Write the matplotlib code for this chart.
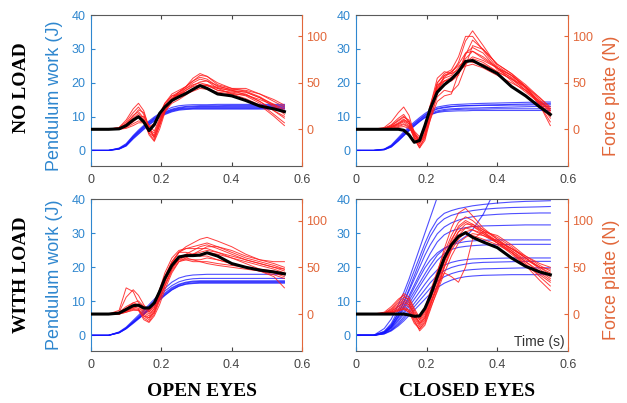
import matplotlib.pyplot as plt

plt.rcParams["font.family"] = ["Liberation Sans", "DejaVu Sans"]

BLUE_AX = "#2f87cf"
ORANGE_AX = "#e2673a"
GRAY = "#5a5a5a"

# common time base (s)
t = [0, .05, .08, .10, .12, .135, .15, .165, .18, .195, .21, .23, .25, .27, .29, .31, .33, .36, .40, .44, .48, .52, .55]

# ---- NO LOAD / OPEN EYES ----
nl_open_blue = [
    [0, 0, 0.5, 1.5, 3.8, 5.3, 6.7, 8.0, 9.2, 10.2, 11.0, 11.8, 12.3, 12.5, 12.6, 12.7, 12.7, 12.7, 12.7, 12.7, 12.7, 12.7, 12.7],
    [0, 0, 0.6, 1.8, 4.2, 5.7, 7.1, 8.4, 9.6, 10.6, 11.4, 12.2, 12.7, 13.0, 13.1, 13.2, 13.2, 13.2, 13.3, 13.3, 13.3, 13.3, 13.3],
    [0, 0, 0.4, 1.3, 3.4, 4.8, 6.2, 7.5, 8.7, 9.8, 10.6, 11.4, 11.9, 12.1, 12.2, 12.2, 12.2, 12.2, 12.2, 12.2, 12.2, 12.2, 12.2],
    [0, 0, 0.5, 1.6, 4.0, 5.5, 6.9, 8.2, 9.4, 10.4, 11.2, 12.0, 12.5, 12.8, 12.9, 13.0, 13.0, 13.0, 13.0, 13.0, 13.0, 13.0, 13.0],
    [0, 0, 0.7, 2.0, 4.4, 6.0, 7.4, 8.7, 9.9, 10.9, 11.8, 12.7, 13.2, 13.4, 13.5, 13.5, 13.5, 13.6, 13.6, 13.6, 13.6, 13.6, 13.6],
    [0, 0, 0.4, 1.4, 3.6, 5.0, 6.4, 7.7, 8.9, 10.0, 10.8, 11.6, 12.1, 12.3, 12.4, 12.4, 12.4, 12.4, 12.4, 12.4, 12.4, 12.4, 12.4],
]
nl_open_red = [
    [0, 0, 2, 10, 22, 28, 20, 2, -8, 8, 24, 34, 40, 46, 55, 60, 57, 48, 44, 44, 38, 30, 24],
    [0, 0, 1, 6, 15, 19, 12, -4, -12, 4, 20, 32, 38, 44, 50, 54, 52, 44, 42, 40, 34, 24, 18],
    [0, 0, 0, 3, 8, 13, 14, 4, -2, 12, 26, 36, 40, 44, 48, 50, 48, 42, 40, 38, 30, 20, 12],
    [0, 0, 1, 5, 12, 17, 10, -6, -13, 0, 18, 30, 36, 42, 46, 48, 47, 42, 39, 36, 28, 16, 7],
    [0, 0, 0, 2, 6, 9, 8, 2, 4, 16, 28, 38, 42, 46, 52, 56, 54, 46, 43, 42, 38, 32, 26],
    [0, 0, 0, 4, 10, 15, 8, -4, -8, 6, 20, 28, 32, 37, 42, 46, 47, 44, 38, 33, 26, 14, 4],
    [0, 0, 2, 8, 18, 24, 16, -2, -6, 8, 22, 33, 38, 42, 47, 51, 52, 47, 42, 37, 30, 20, 14],
    [0, 0, 0, 1, 4, 7, 7, 3, 6, 16, 28, 36, 37, 38, 41, 44, 43, 40, 38, 37, 32, 26, 20],
    [0, 0, 1, 6, 14, 21, 18, 2, -10, 4, 20, 32, 40, 46, 52, 58, 57, 50, 44, 41, 35, 26, 16],
    [0, 0, 0, 3, 9, 13, 10, 0, -4, 10, 24, 32, 38, 40, 43, 47, 48, 45, 41, 40, 34, 27, 22],
]
nl_open_mean = [0, 0, 0.5, 4, 10, 13.5, 8, -1.5, 5, 17, 24, 31, 35, 38.5, 43, 47, 44, 38, 36, 31, 25, 22, 19]

# ---- NO LOAD / CLOSED EYES ----
nl_closed_blue = [
    [0, 0, 0.3, 1.3, 3.3, 4.9, 6.4, 7.8, 9.1, 10.3, 11.3, 12.2, 12.6, 12.9, 13.1, 13.2, 13.3, 13.4, 13.5, 13.6, 13.7, 13.8, 13.9],
    [0, 0, 0.2, 1.0, 2.8, 4.3, 5.8, 7.2, 8.5, 9.7, 10.6, 11.4, 11.8, 12.0, 12.1, 12.2, 12.2, 12.2, 12.3, 12.3, 12.3, 12.3, 12.3],
    [0, 0, 0.4, 1.6, 3.8, 5.5, 7.0, 8.4, 9.7, 10.9, 11.9, 12.8, 13.2, 13.5, 13.6, 13.7, 13.8, 13.9, 14.0, 14.1, 14.2, 14.3, 14.3],
    [0, 0, 0.3, 1.2, 3.0, 4.6, 6.1, 7.5, 8.8, 10.0, 10.9, 11.7, 12.1, 12.3, 12.4, 12.5, 12.5, 12.6, 12.7, 12.8, 12.9, 13.0, 13.0],
    [0, 0, 0.2, 1.1, 2.9, 4.4, 5.9, 7.3, 8.6, 9.7, 10.5, 11.2, 11.5, 11.6, 11.7, 11.7, 11.8, 11.8, 11.8, 11.8, 11.8, 11.8, 11.8],
    [0, 0, 0.3, 1.4, 3.5, 5.1, 6.6, 8.0, 9.3, 10.5, 11.5, 12.4, 12.8, 13.0, 13.1, 13.2, 13.2, 13.3, 13.3, 13.4, 13.4, 13.5, 13.5],
]
nl_closed_red = [
    [0, 0, 2, 8, 18, 24, 15, -5, -15, -5, 25, 55, 62, 60, 72, 95, 106, 90, 68, 58, 45, 30, 18],
    [0, 0, 1, 5, 12, 16, 8, -8, -18, -10, 15, 50, 60, 64, 78, 100, 100, 85, 66, 55, 42, 28, 12],
    [0, 0, 0, 2, 5, 8, 4, -10, -20, -12, 10, 40, 58, 62, 70, 82, 88, 82, 64, 56, 44, 26, 8],
    [0, 0, 0, 1, 3, 5, 2, -6, -12, 0, 20, 45, 55, 58, 66, 76, 84, 78, 66, 58, 46, 32, 20],
    [0, 0, 1, 3, 6, 9, 6, -4, -10, 2, 22, 48, 52, 54, 60, 70, 76, 72, 62, 54, 42, 30, 22],
    [0, 0, 0, 2, 4, 6, 3, -8, -16, -6, 12, 35, 42, 40, 48, 68, 90, 86, 70, 60, 48, 34, 24],
    [0, 0, 0, 1, 2, 3, 1, -4, -14, -8, 10, 30, 36, 38, 60, 82, 84, 76, 66, 58, 46, 28, 14],
    [0, 0, 1, 4, 10, 14, 8, -6, -14, -4, 18, 42, 52, 56, 62, 72, 78, 74, 66, 52, 40, 28, 16],
    [0, 0, 0, 2, 6, 10, 8, -2, -8, 4, 26, 50, 58, 60, 64, 68, 70, 66, 58, 50, 42, 30, 20],
    [0, 0, 0, 3, 7, 11, 6, -10, -20, -8, 16, 44, 52, 52, 58, 80, 96, 86, 70, 60, 46, 26, 4],
    [0, 0, 1, 4, 9, 13, 10, -3, -12, -2, 20, 46, 56, 62, 68, 74, 72, 70, 62, 54, 46, 34, 22],
]
nl_closed_mean = [0, 0, 0, 0, 0, -1, -6, -14, -12, 4, 22, 40, 48, 54, 62, 73, 74, 68, 60, 46, 36, 24, 16]

# ---- WITH LOAD / OPEN EYES ----
wl_open_blue = [
    [0, 0, 0.8, 2.0, 3.7, 4.9, 6.2, 7.6, 9.0, 10.4, 11.8, 13.4, 14.5, 15.1, 15.4, 15.5, 15.5, 15.5, 15.5, 15.5, 15.5, 15.5, 15.5],
    [0, 0, 0.7, 1.9, 3.5, 4.8, 6.1, 7.5, 8.9, 10.3, 11.7, 13.3, 14.4, 15.0, 15.2, 15.3, 15.3, 15.3, 15.3, 15.3, 15.3, 15.3, 15.3],
    [0, 0, 0.8, 2.1, 3.9, 5.2, 6.6, 8.0, 9.5, 11.0, 12.4, 14.0, 15.0, 15.6, 15.9, 16.0, 16.0, 16.0, 16.0, 16.0, 16.0, 16.0, 16.0],
    [0, 0, 0.9, 2.2, 4.1, 5.5, 7.0, 8.5, 10.0, 11.5, 13.0, 14.6, 15.7, 16.3, 16.6, 16.7, 16.7, 16.7, 16.7, 16.7, 16.7, 16.7, 16.7],
    [0, 0, 1.0, 2.4, 4.4, 5.9, 7.4, 9.0, 10.6, 12.2, 13.8, 15.6, 16.8, 17.4, 17.7, 17.8, 17.9, 17.9, 17.9, 17.9, 17.9, 17.9, 17.9],
    [0, 0, 0.8, 2.0, 3.8, 5.1, 6.4, 7.8, 9.2, 10.7, 12.1, 13.7, 14.8, 15.4, 15.7, 15.8, 15.8, 15.8, 15.8, 15.8, 15.8, 15.8, 15.8],
]
wl_open_red = [
    [0, 0, 4, 28, 24, 12, 8, 4, 12, 26, 40, 56, 66, 72, 76, 80, 82, 78, 72, 64, 58, 54, 50],
    [0, 0, 2, 18, 26, 20, 10, 2, 8, 22, 38, 54, 66, 70, 72, 74, 76, 72, 66, 60, 56, 52, 48],
    [0, 0, 0, 4, 8, 6, -4, -8, 0, 14, 30, 48, 60, 64, 68, 72, 74, 70, 64, 58, 54, 50, 46],
    [0, 0, 1, 3, 6, 5, -2, -6, 2, 18, 34, 52, 62, 62, 62, 64, 66, 64, 60, 56, 52, 48, 44],
    [0, 0, 0, 2, 5, 4, -6, -9, -2, 10, 26, 44, 56, 58, 58, 58, 60, 58, 54, 50, 48, 46, 42],
    [0, 0, 2, 8, 12, 10, 6, 2, 10, 24, 40, 56, 66, 66, 64, 62, 62, 58, 54, 50, 46, 42, 38],
    [0, 0, 1, 4, 8, 10, 4, 0, 6, 20, 36, 50, 58, 58, 56, 56, 56, 54, 52, 50, 46, 40, 28],
    [0, 0, 1, 6, 12, 14, 8, 4, 12, 26, 44, 60, 68, 70, 70, 70, 70, 66, 60, 54, 48, 44, 40],
    [0, 0, 0, 3, 7, 8, 0, -4, 4, 16, 30, 46, 56, 60, 64, 68, 72, 72, 68, 62, 58, 56, 56],
    [0, 0, 1, 5, 9, 10, 2, -2, 6, 20, 36, 52, 60, 60, 58, 56, 54, 52, 50, 48, 46, 44, 42],
    [0, 0, 0, 2, 4, 4, -2, -4, 2, 16, 32, 48, 58, 62, 64, 66, 68, 66, 62, 58, 54, 50, 48],
]
wl_open_mean = [0, 0, 1, 5, 9, 9.5, 6.5, 6.5, 12, 24, 38, 52, 61, 62.5, 62.5, 63, 65.5, 62, 54, 50, 47, 45, 43]

# ---- WITH LOAD / CLOSED EYES ----
wl_closed_blue = [
    [0, 0, 1.2, 3.5, 7.5, 11, 15, 19, 23, 27, 30.5, 34, 35.8, 36.6, 37.2, 37.6, 38, 38.4, 38.8, 39.1, 39.3, 39.4, 39.5],
    [0, 0, 1.0, 3.0, 6.5, 9.8, 13.5, 17.5, 21.5, 25.5, 29, 32.4, 34.2, 35.2, 35.8, 36.2, 36.6, 37, 37.3, 37.5, 37.6, 37.7, 37.8],
    [0, 0, 1.0, 3.0, 6.5, 9.5, 13, 16.5, 20, 23.5, 26.5, 29.8, 31.8, 33, 33.8, 34.4, 34.8, 35.2, 35.5, 35.7, 35.8, 35.9, 35.9],
    [0, 0, 0.8, 2.6, 5.8, 8.6, 11.6, 14.8, 18, 21, 24, 27.4, 29.5, 30.6, 31.2, 31.6, 31.9, 32.1, 32.2, 32.3, 32.4, 32.4, 32.4],
    [0, 0, 0.8, 2.4, 5.2, 7.6, 10.2, 12.8, 15.4, 18, 20.5, 23.5, 25.4, 26.5, 27.1, 27.5, 27.7, 27.9, 28, 28, 28, 28, 28],
    [0, 0, 0.7, 2.2, 4.6, 6.8, 9.2, 11.8, 14.4, 16.8, 19.2, 22, 24, 25.2, 25.8, 26.1, 26.3, 26.5, 26.6, 26.7, 26.7, 26.7, 26.7],
    [0, 0, 0.6, 2.0, 4.2, 6.2, 8.4, 10.6, 12.8, 15, 17, 19.2, 20.6, 21.4, 21.9, 22.2, 22.4, 22.5, 22.6, 22.7, 22.7, 22.7, 22.7],
    [0, 0, 0.5, 1.6, 3.6, 5.4, 7.4, 9.4, 11.4, 13.4, 15.4, 17.6, 19, 19.9, 20.5, 20.9, 21.2, 21.4, 21.5, 21.6, 21.7, 21.7, 21.7],
    [0, 0, 0.5, 1.5, 3.2, 4.8, 6.6, 8.4, 10.2, 12, 13.8, 15.8, 17.2, 18.1, 18.7, 19.1, 19.3, 19.5, 19.6, 19.7, 19.8, 19.8, 19.8],
    [0, 0, 0.4, 1.3, 2.8, 4.2, 5.8, 7.4, 9, 10.6, 12.2, 14, 15.3, 16.2, 16.8, 17.2, 17.4, 17.6, 17.7, 17.8, 17.8, 17.8, 17.8],
    [0, 0, 2, 4.8, 9, 12.5, 16.5, 21, 25.5, 30, 34.5, 40.5, 46, 52, 58, 64, 70, 78, 88, 98, 108, 118, 125],
    [0, 0, 0.8, 2.5, 5.5, 8.2, 11, 14, 17, 19.8, 22, 24.2, 25.6, 26.6, 27.6, 29, 31, 35.5, 44, 54, 64, 74, 82],
]
wl_closed_red = [
    [0, 0, 2, 8, 16, 20, 14, 2, -6, 4, 20, 44, 70, 92, 108, 113, 105, 92, 80, 68, 56, 44, 36],
    [0, 0, 1, 6, 14, 22, 18, 6, -4, 6, 24, 46, 66, 84, 98, 104, 100, 90, 80, 70, 60, 50, 44],
    [0, 0, 0, 3, 8, 12, 10, 0, -10, -2, 14, 36, 58, 78, 94, 100, 96, 88, 76, 66, 54, 40, 30],
    [0, 0, 0, 2, 5, 8, 4, -8, -16, -8, 8, 30, 52, 72, 88, 96, 96, 90, 82, 72, 60, 48, 40],
    [0, 0, 1, 4, 10, 16, 12, -2, -12, -4, 12, 30, 44, 40, 34, 50, 80, 88, 84, 74, 62, 52, 46],
    [0, 0, 0, 1, 3, 5, 2, -6, -18, -12, 4, 26, 50, 70, 84, 92, 94, 88, 78, 66, 52, 36, 25],
    [0, 0, 1, 5, 12, 18, 16, 4, -6, 2, 18, 40, 62, 80, 92, 98, 94, 86, 76, 64, 52, 42, 34],
    [0, 0, 0, 2, 6, 10, 8, -4, -14, -6, 10, 32, 56, 76, 88, 92, 90, 84, 76, 68, 58, 50, 48],
    [0, 0, 0, 1, 4, 6, 4, -2, -8, 0, 16, 36, 56, 72, 82, 86, 84, 80, 74, 66, 56, 46, 38],
    [0, 0, 1, 3, 8, 14, 10, 0, -10, -4, 10, 28, 50, 68, 80, 88, 90, 86, 78, 70, 60, 50, 42],
    [0, 0, 0, 2, 4, 6, 2, -10, -16, -10, 6, 24, 44, 62, 76, 82, 86, 84, 78, 70, 62, 54, 50],
]
wl_closed_mean = [0, 0, 0, 0, 0, 0, -1, -2.4, -2, 6, 19, 40, 60, 74, 83, 87, 82, 77, 71, 60, 51, 45, 42]

x_ticks = [0, 0.2, 0.4, 0.6]
x_tick_labels = ["0", "0.2", "0.4", "0.6"]
work_ticks = [0, 10, 20, 30, 40]
force_ticks = [0, 50, 100]

W, H = 627, 403
fig = plt.figure(figsize=(W / 100, H / 100), dpi=100)


def add_panel(box, blue, red, mean):
    # box in pixels: left, top, right, bottom
    x0, y0, x1, y1 = box
    ax = fig.add_axes([x0 / W, 1 - y1 / H, (x1 - x0) / W, (y1 - y0) / H])
    ax2 = ax.twinx()

    for b in blue:
        ax.plot(t, b, color="#1414ff", lw=0.8, alpha=0.75)
    for r in red:
        ax2.plot(t, r, color="#ff1c1c", lw=0.7, alpha=0.85)
    ax2.plot(t, mean, color="black", lw=2.2)

    ax.set_xlim(0, 0.6)
    ax.set_ylim(-4.6, 40)
    ax2.set_ylim(-39.5, 123)
    ax.set_xticks(x_ticks)
    ax.set_xticklabels(x_tick_labels)
    ax.set_yticks(work_ticks)
    ax2.set_yticks(force_ticks)

    ax.tick_params(axis="x", colors="#444444", direction="in", length=3, top=True,
                   labelsize=9, pad=6)
    ax.tick_params(axis="y", colors=BLUE_AX, direction="in", length=3, labelsize=9, pad=4)
    ax2.tick_params(axis="y", colors=ORANGE_AX, direction="in", length=3, labelsize=9, pad=3)

    ax.spines["left"].set_color(BLUE_AX)
    ax.spines["right"].set_visible(False)
    for s in ("top", "bottom"):
        ax.spines[s].set_color(GRAY)
        ax2.spines[s].set_visible(False)
    ax2.spines["left"].set_visible(False)
    ax2.spines["right"].set_color(ORANGE_AX)
    return ax, ax2


add_panel([91, 15, 302, 166], nl_open_blue, nl_open_red, nl_open_mean)
add_panel([356, 15, 568, 166], nl_closed_blue, nl_closed_red, nl_closed_mean)
add_panel([91, 199, 302, 351], wl_open_blue, wl_open_red, wl_open_mean)
ax, ax2 = add_panel([356, 199, 568, 351], wl_closed_blue, wl_closed_red, wl_closed_mean)
ax.text(0.985, 0.06, "Time (s)", transform=ax.transAxes, ha="right", va="center",
        fontsize=10, color="#333333")

# axis titles
for yc in (96, 275):
    fig.text(55 / W, 1 - yc / H, "Pendulum work (J)", rotation=90, ha="center", va="center",
             fontsize=13, color=BLUE_AX)
for yc in (96, 280):
    fig.text(612 / W, 1 - yc / H, "Force plate (N)", rotation=90, ha="center", va="center",
             fontsize=13, color=ORANGE_AX)

# row / column headers
serif = dict(family=["Liberation Serif", "DejaVu Serif"], weight="bold", fontsize=14)
fig.text(22 / W, 1 - 88 / H, "NO LOAD", rotation=90, ha="center", va="center", **serif)
fig.text(22 / W, 1 - 275 / H, "WITH LOAD", rotation=90, ha="center", va="center", **serif)
fig.text(202 / W, 1 - 392 / H, "OPEN EYES", ha="center", va="center", **serif)
fig.text(467 / W, 1 - 392 / H, "CLOSED EYES", ha="center", va="center", **serif)

fig.savefig("out.png", dpi=100)
